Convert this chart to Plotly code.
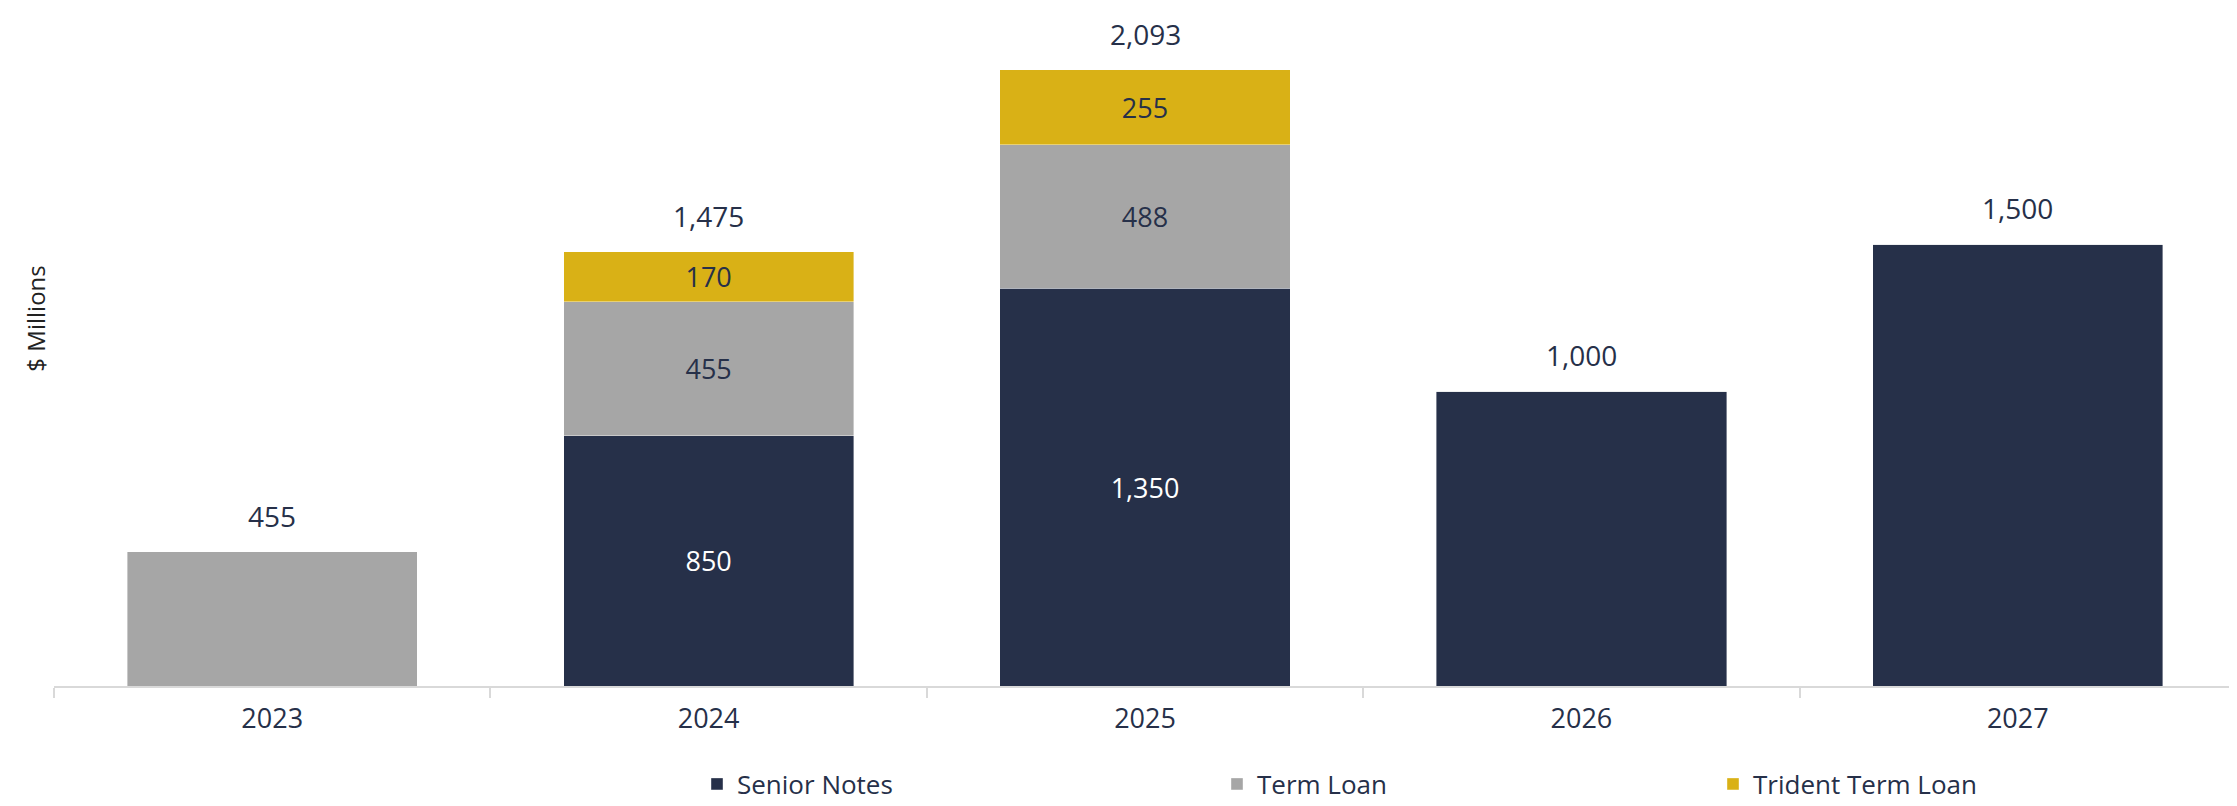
import plotly.graph_objects as go

years = ["2023", "2024", "2025", "2026", "2027"]
senior_notes = [0, 850, 1350, 1000, 1500]
term_loan = [455, 455, 488, 0, 0]
trident_term_loan = [0, 170, 255, 0, 0]
totals = [455, 1475, 2093, 1000, 1500]

NAVY = "#263049"
GRAY = "#A6A6A6"
GOLD = "#D9B116"
FONT = "Open Sans"

def lbl(vals):
    # segment labels only where the bar is stacked (single-segment bars show just the total)
    return [f"{v:,}" if v and v != t else "" for v, t in zip(vals, totals)]

fig = go.Figure()
series = [
    ("Senior Notes", senior_notes, NAVY, "white", "legend"),
    ("Term Loan", term_loan, GRAY, NAVY, "legend2"),
    ("Trident Term Loan", trident_term_loan, GOLD, NAVY, "legend3"),
]
for name, vals, col, tcol, leg in series:
    fig.add_trace(go.Bar(
        x=years, y=vals, name=name,
        marker=dict(color=col, line=dict(color="rgba(255,255,255,0.5)", width=0.8)),
        text=lbl(vals), textposition="inside", insidetextanchor="middle",
        textangle=0,
        textfont=dict(color=tcol, size=27, family=FONT),
        constraintext="none", hoverinfo="skip", legend=leg,
    ))

for i, t in enumerate(totals):
    fig.add_annotation(x=i, y=t, text=f"{t:,}", showarrow=False,
                       yanchor="middle", yshift=36,
                       font=dict(color=NAVY, size=28, family=FONT))

fig.add_annotation(xref="paper", yref="paper", x=-0.0083, y=0.565,
                   text="$ Millions", textangle=-90, showarrow=False,
                   xanchor="center", yanchor="middle",
                   font=dict(color="#222222", size=24, family=FONT))

leg_common = dict(orientation="h", xref="container", yref="container",
                  y=30 / 806, yanchor="middle",
                  xanchor="left", bgcolor="rgba(0,0,0,0)",
                  font=dict(color=NAVY, size=26, family=FONT))

fig.update_layout(
    width=2237, height=806,
    margin=dict(l=46, r=9, t=28, b=128),
    barmode="stack", bargap=0.335,
    plot_bgcolor="white", paper_bgcolor="white",
    font=dict(family=FONT, color=NAVY),
    showlegend=True,
    legend=dict(x=689 / 2237, **leg_common),
    legend2=dict(x=1209 / 2237, **leg_common),
    legend3=dict(x=1705 / 2237, **leg_common),
    xaxis=dict(
        type="category", categoryorder="array", categoryarray=years,
        range=[-0.5, len(years) - 0.5], automargin=False,
        showline=True, linecolor="#D9D9D9", linewidth=2,
        ticks="outside", tickson="boundaries", ticklen=10, tickwidth=1.5,
        tickcolor="#D9D9D9", tickfont=dict(size=27, color=NAVY, family=FONT),
        tickangle=0, ticklabelstandoff=8, showgrid=False, zeroline=False,
    ),
    yaxis=dict(range=[0, 2207], visible=False, showgrid=False, zeroline=False,
               automargin=False),
)

fig.write_html("out.html")
